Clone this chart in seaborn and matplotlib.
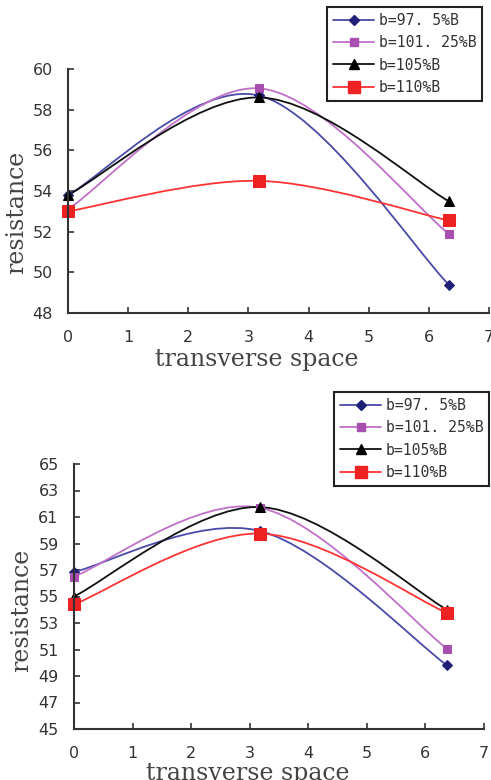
import numpy as np
import matplotlib
matplotlib.use("Agg")
import matplotlib.pyplot as plt
import seaborn as sns
from matplotlib.path import Path
from matplotlib.patches import PathPatch
from matplotlib.lines import Line2D

# series labels and the three measured positions per panel
labels = ["b=97. 5%B", "b=101. 25%B", "b=105%B", "b=110%B"]

top_x = [0, 3.17, 6.33]
top_blue = [53.8, 58.7, 49.4]
top_magenta = [53.1, 59.05, 51.9]
top_black = [53.8, 58.6, 53.5]
top_red = [53.0, 54.5, 52.55]

bot_x = [0, 3.17, 6.37]
bot_blue = [56.85, 59.95, 49.8]
bot_magenta = [56.5, 61.7, 51.05]
bot_black = [55.0, 61.75, 54.0]
bot_red = [54.4, 59.75, 53.75]

top_yticks = list(range(48, 61, 2))
bot_yticks = list(range(45, 66, 2))
xticks = list(range(0, 8))

# style of each series: line colour, marker colour, marker, marker size
styles = [
    ("#4a4aa8", "#1f1f78", "D", 5.0),
    ("#c070c8", "#a850b0", "s", 6.0),
    ("#111111", "#000000", "^", 7.0),
    ("#ff3333", "#ee2222", "s", 9.0),
]

sns.set_style("ticks")
plt.rcParams["font.family"] = ["DejaVu Sans"]


def smooth_path(xs, ys):
    # excel-like smoothed line: cubic bezier segments through the points
    pts = np.column_stack([xs, ys]).astype(float)
    n = len(pts)
    verts = [pts[0]]
    codes = [Path.MOVETO]
    for i in range(n - 1):
        p_prev = pts[i - 1] if i > 0 else pts[i]
        p_next2 = pts[i + 2] if i + 2 < n else pts[i + 1]
        c1 = pts[i] + (pts[i + 1] - p_prev) / 6.0
        c2 = pts[i + 1] - (p_next2 - pts[i]) / 6.0
        verts += [c1, c2, pts[i + 1]]
        codes += [Path.CURVE4] * 3
    return Path(verts, codes)


def draw_panel(ax, xs, series, yticks, xlab_pos, ylab_pos):
    for ys, (lc, mc, mk, ms) in zip(series, styles):
        ax.add_patch(PathPatch(smooth_path(xs, ys), fill=False, edgecolor=lc,
                               lw=1.3, clip_on=False))
        sns.lineplot(x=xs, y=ys, ax=ax, linestyle="", marker=mk, markersize=ms,
                     color=mc, markeredgecolor=mc, clip_on=False, legend=False)
    ax.set_xlim(0, 7)
    ax.set_ylim(yticks[0], yticks[-1])
    ax.set_xticks(xticks)
    ax.set_yticks(yticks)
    ax.tick_params(direction="in", length=4, width=1.2, colors="#333333",
                   labelsize=11.5)
    ax.tick_params(axis="x", pad=12)
    ax.tick_params(axis="y", pad=11)
    for s in ["top", "right"]:
        ax.spines[s].set_visible(False)
    for s in ["left", "bottom"]:
        ax.spines[s].set_linewidth(1.5)
        ax.spines[s].set_color("#333333")
    ax.set_xlabel("transverse space", family="DejaVu Serif", fontsize=17,
                  color="#444444")
    ax.set_ylabel("resistance", family="DejaVu Serif", fontsize=17,
                  color="#444444")
    ax.xaxis.set_label_coords(*xlab_pos)
    ax.yaxis.set_label_coords(*ylab_pos)


def add_legend(fig, anchor):
    handles = [Line2D([], [], color=lc, lw=1.3, marker=mk, markersize=ms,
                      markerfacecolor=mc, markeredgecolor=mc)
               for lc, mc, mk, ms in styles]
    leg = fig.legend(handles, labels, loc="upper left", bbox_to_anchor=anchor,
                     bbox_transform=fig.transFigure,
                     prop={"family": "DejaVu Sans Mono", "size": 10.6},
                     handlelength=2.8, handletextpad=0.3, labelspacing=0.5,
                     borderpad=0.4, borderaxespad=0, fancybox=False,
                     framealpha=1, edgecolor="#222222")
    leg.get_frame().set_linewidth(1.5)
    for t in leg.get_texts():
        t.set_color("#333333")


W, H = 491, 780
fig = plt.figure(figsize=(W / 100, H / 100), dpi=100)

ax1 = fig.add_axes([68 / W, 1 - 313 / H, 421 / W, 244 / H])
draw_panel(ax1, top_x, [top_blue, top_magenta, top_black, top_red],
           top_yticks, (0.449, -0.145), (-0.095, 0.414))

ax2 = fig.add_axes([74 / W, 1 - 729 / H, 410 / W, 265 / H])
draw_panel(ax2, bot_x, [bot_blue, bot_magenta, bot_black, bot_red],
           bot_yticks, (0.424, -0.125), (-0.10, 0.449))

add_legend(fig, (327 / W, 1 - 7 / H))
add_legend(fig, (334 / W, 1 - 392 / H))

fig.savefig("out.png", dpi=100)
